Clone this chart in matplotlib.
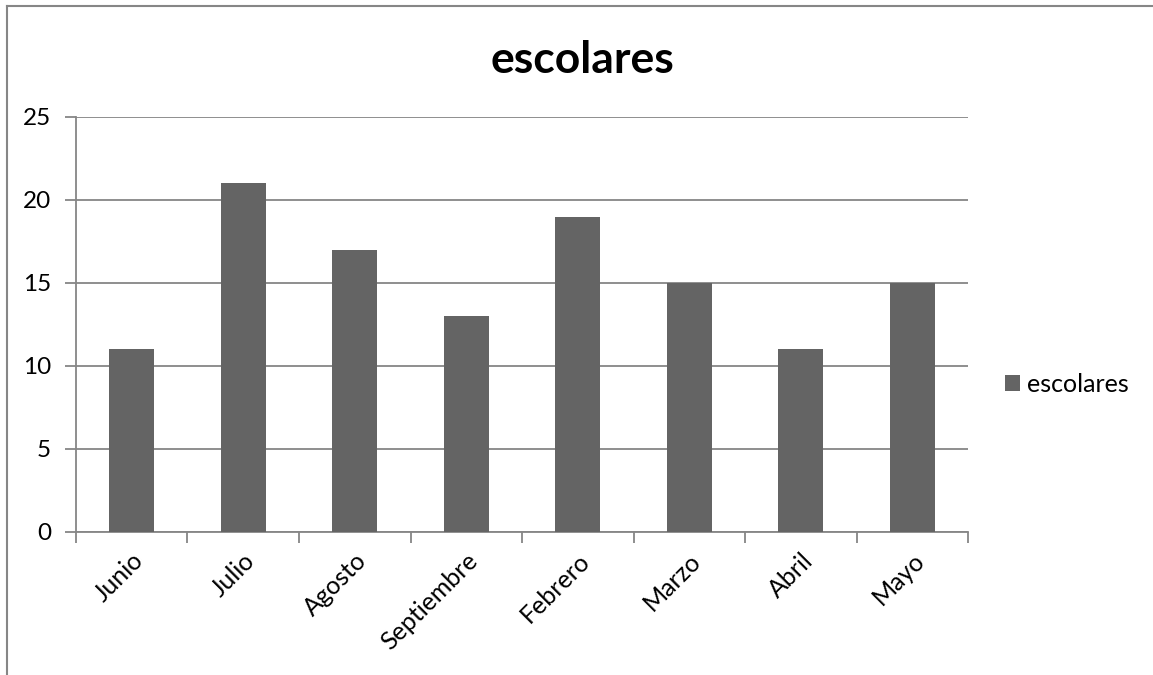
import numpy as np
import matplotlib.pyplot as plt
from matplotlib.lines import Line2D
from matplotlib.ticker import FixedLocator, NullFormatter

meses = ["Junio", "Julio", "Agosto", "Septiembre", "Febrero", "Marzo", "Abril", "Mayo"]
escolares = [11, 21, 17, 13, 19, 15, 11, 15]
yticks = [0, 5, 10, 15, 20, 25]

plt.rcParams['font.family'] = ['Lato', 'DejaVu Sans']

gris = "#868686"
barra = "#646464"

fig = plt.figure(figsize=(11.53, 6.75), dpi=100)
ax = fig.add_axes([0.0659, 0.2119, 0.8396 - 0.0659, 0.8267 - 0.2119])

x = np.arange(len(meses))
ax.bar(x, escolares, width=0.4, color=barra, label="escolares", zorder=3)

ax.set_xlim(-0.5, len(meses) - 0.5)
ax.set_ylim(0, 25)
ax.set_yticks(yticks)
ax.yaxis.grid(True, color=gris, linewidth=1.3, zorder=0)

# etiquetas en el centro de cada categoría, marcas en los bordes
ax.set_xticks(x)
ax.set_xticklabels(meses, rotation=45, ha="right", rotation_mode="anchor", fontsize=18)
ax.xaxis.set_minor_locator(FixedLocator(np.arange(len(meses) + 1) - 0.5))
ax.xaxis.set_minor_formatter(NullFormatter())
ax.tick_params(axis="x", which="major", length=0, pad=12)
ax.tick_params(axis="x", which="minor", length=8, width=1.3, color=gris, direction="out")
ax.tick_params(axis="y", length=8, width=1.3, color=gris, labelsize=17.5, pad=10)

for s in ["top", "right"]:
    ax.spines[s].set_visible(False)
for s in ["left", "bottom"]:
    ax.spines[s].set_color(gris)
    ax.spines[s].set_linewidth(1.3)

fig.text(582 / 1153, 1 - 60 / 675, "escolares", fontsize=32, fontweight="bold",
         ha="center", va="center")

fig.legend(loc="center left", bbox_to_anchor=(1005 / 1153, 1 - 384 / 675), frameon=False,
           fontsize=18, handlelength=0.6, handleheight=0.6, handletextpad=0.3,
           borderpad=0, borderaxespad=0)

# marco del gráfico
fig.add_artist(Line2D([7 / 1153, 7 / 1153], [0, 1 - 6 / 675], color=gris, linewidth=1.5))
fig.add_artist(Line2D([7 / 1153, 1152 / 1153], [1 - 6 / 675, 1 - 6 / 675], color=gris, linewidth=1.5))

fig.savefig("out.png", dpi=100)
